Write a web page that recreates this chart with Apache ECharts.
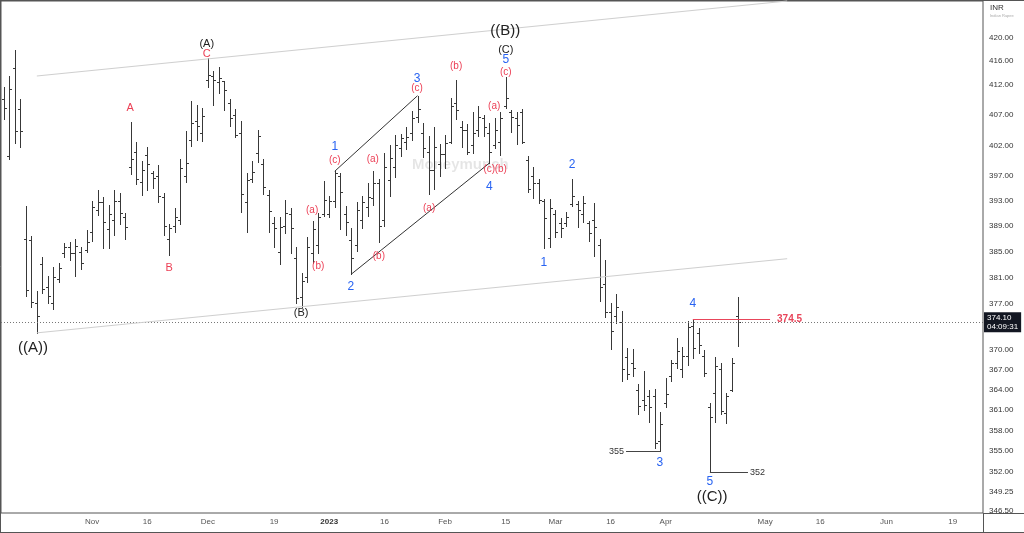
<!DOCTYPE html>
<html><head><meta charset="utf-8">
<script src="https://cdn.jsdelivr.net/npm/echarts@6/dist/echarts.min.js"></script>
<style>html,body{margin:0;padding:0;background:#fff}#c{width:1024px;height:533px}</style>
</head><body><div id="c"></div>
<script>
// ---- OHLC data (daily bars, Nov 2022 - Apr 2023) ----
const opens = [409.7,400.3,414.9,408.0,387.0,386.8,377.0,383.0,379.5,377.1,
380.8,384.8,385.8,384.8,385.0,385.2,388.1,391.5,392.9,388.6,
390.0,393.0,390.5,398.5,401.0,396.0,400.5,397.5,397.0,393.7,
387.0,389.0,390.0,397.0,402.9,406.0,404.0,412.8,413.5,412.5,
412.6,409.0,407.0,404.0,392.9,396.5,400.8,399.0,394.0,389.5,
385.0,389.0,391.0,384.0,378.0,381.0,384.8,386.0,391.0,391.0,
393.0,397.0,391.0,386.8,386.0,390.0,392.0,393.5,395.9,390.0,
396.4,398.5,401.5,402.5,404.0,406.7,404.0,401.0,398.0,399.0,
400.6,402.6,409.0,405.0,404.5,402.0,404.5,406.5,404.0,402.0,
402.6,408.5,407.5,406.5,407.5,399.6,397.0,395.9,393.0,387.1,
391.0,389.5,389.5,392.5,392.5,391.0,389.5,390.0,386.0,380.0,
375.6,375.0,374.2,368.9,368.0,364.0,362.5,363.0,363.0,356.5,
362.0,366.0,368.0,367.0,369.0,373.5,372.5,369.0,361.5,363.5,
367.0,360.5,364.0,375.1];
const highs = [411.7,413.5,417.9,409.7,392.2,387.5,378.9,384.2,381.2,382.6,
383.2,386.4,386.5,387.0,385.7,388.4,393.0,394.8,393.7,392.4,
394.8,394.3,391.1,405.9,402.6,399.5,401.7,397.8,398.8,394.3,
389.4,391.9,399.8,404.4,409.3,408.7,408.2,416.6,414.4,415.0,
412.7,409.7,408.0,406.0,397.5,399.5,404.5,399.8,394.8,390.5,
390.5,393.2,391.9,385.7,381.7,387.3,389.8,391.1,396.2,393.8,
397.8,397.5,392.2,388.7,392.9,393.8,395.9,397.8,396.5,400.8,
402.1,403.7,403.9,405.0,407.7,410.2,405.7,403.6,405.0,402.2,
403.7,409.8,412.8,406.0,405.5,407.5,408.5,407.0,405.7,406.5,
407.5,413.4,407.8,407.5,408.0,400.3,398.5,396.5,393.3,393.3,
391.6,390.3,391.3,396.5,393.0,393.8,389.8,392.7,387.0,383.7,
377.1,378.4,375.9,370.2,370.1,364.9,366.8,363.9,364.1,360.7,
365.7,368.4,371.8,370.4,374.3,374.5,373.3,369.9,362.0,368.8,
367.9,363.5,368.7,377.9];
const lows = [406.4,399.8,402.4,401.7,378.1,376.4,372.5,378.6,377.1,376.1,
380.3,384.2,383.7,381.2,382.3,385.0,386.7,390.8,385.6,385.6,
387.6,389.4,387.0,397.4,395.7,394.0,394.8,395.1,392.9,387.6,
384.5,388.1,389.4,396.1,401.9,402.9,402.7,411.7,408.7,410.7,
407.8,405.2,403.4,391.3,388.1,396.1,399.3,394.1,388.1,385.7,
383.1,387.9,384.8,377.1,376.4,380.3,383.2,384.8,390.6,390.5,
392.1,388.6,387.6,381.5,385.1,388.7,390.6,392.4,386.5,389.0,
393.8,396.9,400.3,401.4,402.9,405.9,400.1,394.1,394.9,397.0,
398.3,402.4,406.4,401.7,400.6,400.8,403.6,403.6,399.1,401.6,
400.4,408.2,404.2,402.2,402.4,394.5,393.5,392.7,385.6,385.7,
387.3,387.3,389.0,392.2,388.9,389.7,386.7,384.3,377.4,374.9,
370.1,374.0,365.3,365.6,366.0,360.4,361.0,359.3,355.4,355.0,
361.5,365.3,367.2,365.9,367.7,368.7,369.4,366.0,352.0,359.3,
360.4,359.1,363.8,370.5];
const closes = [408.2,411.3,404.4,404.4,379.1,377.2,375.1,379.2,378.1,381.0,
382.5,385.8,384.8,385.9,383.2,386.5,392.0,392.9,389.7,391.0,
393.0,391.1,388.9,399.8,396.5,398.0,399.0,396.7,393.8,389.0,
388.7,390.5,398.3,399.1,405.7,405.2,406.8,413.7,412.8,413.2,
411.2,406.5,403.7,394.1,396.4,397.7,403.5,395.3,391.4,388.7,
388.9,391.1,388.7,377.8,380.5,385.7,388.5,390.5,393.2,393.0,
397.5,394.5,389.7,384.0,391.6,392.9,393.7,395.9,389.0,398.5,
400.0,402.0,403.2,403.4,406.5,408.0,401.5,398.0,401.7,400.6,
402.4,408.5,407.8,404.5,400.9,404.0,406.7,405.0,401.0,404.5,
406.5,409.8,406.7,405.4,402.6,395.0,395.9,393.2,390.3,391.9,
388.1,388.7,390.5,393.8,391.6,392.7,387.9,388.9,379.5,375.7,
372.8,376.5,367.0,366.3,367.2,361.6,361.7,361.5,356.2,359.0,
363.4,367.9,369.8,369.0,373.4,370.2,370.7,366.5,360.0,367.5,
360.8,363.0,368.0,374.1];

// ---- axis ticks ----
const slotCount = 178; // trading-day slots incl. future space
const xTickIdx = [16,26,37,49,59,69,80,91,100,110,120,138,148,160,172];
const xTickText = ['Nov','16','Dec','19','2023','16','Feb','15','Mar','16','Apr','May','16','Jun','19'];
const yTicks = [420,416,412,407,402,397,393,389,385,381,377,370,367,364,361,358,355,352,349.25,346.5];
const lastPrice = 374.10;
const lastTime = '04:09:31';

// ---- Elliott wave annotations ----
const annText = ['((A))','A','B','C','(A)','(B)','(a)','(b)','(c)','1','2','(a)','(b)','3','(c)','(a)','(b)','(a)','(c)','(b)','4','((B))','(C)','5','(c)','1','2','3','4','5','((C))'];
const annIdx = [5.3,22.9,30.0,36.8,36.8,53.9,55.9,57.0,60.0,60.0,62.9,66.9,68.0,74.9,74.9,77.1,82.0,88.9,88.0,90.1,88.0,90.9,91.0,91.0,91.0,97.9,103.0,118.9,124.9,128.0,128.4];
const annPrice = [370.2,408.2,382.5,417.3,418.9,375.5,391.6,382.7,399.6,401.8,379.5,399.8,384.3,413.0,411.4,391.9,415.1,408.5,398.1,398.1,395.3,421.2,417.9,416.2,414.1,383.3,398.8,353.3,377.0,350.6,348.5];
const annKind = ['wave1','redL','redL','redL','wave2','wave2','red','red','red','blue','blue','red','red','blue','red','red','red','red','red','red','blue','wave1','wave2','blue','red','blue','blue','blue','blue','blue','wave1'];

// ---- trend lines [idx1, price1, idx2, price2] ----
const channelLines = [[6.0,413.5,142,426.3],[6.0,372.5,142,383.9]];
const waveLines = [[60,397.8,75,410.2],[63,381.5,88,399.1]];
// ---- price levels ----
const lvlFrom = [112.8,128.0,124.9];
const lvlTo = [119.0,134.9,138.9];
const lvlPrice = [355,352,374.5];
const lvlText = ['355','352','374.5'];

const FONT = 'Liberation Sans, Arial, sans-serif';
const chart = echarts.init(document.getElementById('c'));
const bars = opens.map((o,i)=>[i,o,highs[i],lows[i],closes[i]]);
const kindStyle = {
  red:{color:'#ec3f55',fontSize:10},
  redL:{color:'#ec3f55',fontSize:11},
  blue:{color:'#2863f2',fontSize:12},
  wave1:{color:'#222',fontSize:15},
  wave2:{color:'#222',fontSize:11}
};
const annData = annText.map((t,i)=>({value:[annIdx[i],annPrice[i]],
  label:Object.assign({show:true,formatter:t,position:'inside',fontFamily:FONT,
    textBorderWidth:0,textBorderColor:'transparent',opacity:1},kindStyle[annKind[i]])}));

const ml = [];
ml.push({yAxis:lastPrice, lineStyle:{color:'#777',type:[1,2],width:1},
  label:{show:true,position:'end',distance:1,formatter:lastPrice.toFixed(2)+'\n'+lastTime,
    backgroundColor:'#131722',color:'#fff',fontSize:8,lineHeight:9,padding:[1,3],fontFamily:FONT}});
channelLines.forEach(l=>ml.push([{coord:[l[0],l[1]],lineStyle:{color:'#cfcfcf',width:1,type:'solid'}},{coord:[l[2],l[3]]}]));
waveLines.forEach(l=>ml.push([{coord:[l[0],l[1]],lineStyle:{color:'#333',width:1,type:'solid'}},{coord:[l[2],l[3]]}]));
lvlPrice.forEach((p,i)=>{
  const red = i===2;
  ml.push([{coord:[lvlFrom[i],p],lineStyle:{color:red?'#e8455a':'#444',width:1,type:'solid'},
    label:{show:true,position:i===0?'start':'end',distance:red?7:2,formatter:lvlText[i],
      color:red?'#e8455a':'#333',fontSize:red?10:9,fontWeight:red?'bold':'normal',fontFamily:FONT}},
    {coord:[lvlTo[i],p]}]);
});

chart.setOption({
  animation:false,
  textStyle:{fontFamily:FONT},
  grid:{left:1,top:1,right:41,bottom:20,show:true,borderColor:'#555',borderWidth:1,backgroundColor:'#fff'},
  xAxis:{type:'value',min:-0.5,max:slotCount-0.5,splitLine:{show:false},axisLine:{show:false},axisTick:{show:false},
    axisLabel:{customValues:xTickIdx,fontSize:8,color:'#555',margin:5,
      formatter:v=>{const k=xTickIdx.indexOf(Math.round(v));if(k<0)return '';const t=xTickText[k];return t==='2023'?'{b|2023}':t;},
      rich:{b:{fontWeight:'bold',color:'#333',fontSize:8}}}},
  yAxis:{type:'log',logBase:10,min:346.2,max:426.3,position:'right',splitLine:{show:false},axisLine:{show:false},axisTick:{show:false},
    axisLabel:{customValues:yTicks,formatter:v=>Number(v).toFixed(2),fontSize:8,color:'#333',margin:6}},
  series:[
    {type:'custom',data:bars,encode:{x:0,y:[1,2,3,4]},silent:true,clip:true,z:3,
     renderItem:(params,api)=>{
       const i=api.value(0);
       const h=api.coord([i,api.value(2)]), l=api.coord([i,api.value(3)]);
       const o=api.coord([i,api.value(1)]), c=api.coord([i,api.value(4)]);
       const x=Math.round(h[0])+0.5;
       const st={stroke:'#383838',lineWidth:1};
       const yo=Math.round(o[1])+0.5, yc=Math.round(c[1])+0.5;
       return {type:'group',children:[
         {type:'line',shape:{x1:x,y1:Math.round(h[1]),x2:x,y2:Math.round(l[1])+1},style:st},
         {type:'line',shape:{x1:x-2.5,y1:yo,x2:x,y2:yo},style:st},
         {type:'line',shape:{x1:x,y1:yc,x2:x+2.5,y2:yc},style:st}
       ]};
     },
     markLine:{silent:true,symbol:['none','none'],animation:false,label:{show:false},data:ml}
    },
    {type:'scatter',data:annData,symbol:'circle',symbolSize:1,itemStyle:{color:'rgba(0,0,0,0)'},silent:true,z:5}
  ],
  graphic:[
    {type:'line',shape:{x1:0,y1:0.5,x2:1024,y2:0.5},style:{stroke:'#555',lineWidth:1}},
    {type:'line',shape:{x1:0.5,y1:0,x2:0.5,y2:533},style:{stroke:'#555',lineWidth:1}},
    {type:'line',shape:{x1:0,y1:532.5,x2:1024,y2:532.5},style:{stroke:'#555',lineWidth:1}},
    {type:'line',shape:{x1:983,y1:513.5,x2:1024,y2:513.5},style:{stroke:'#555',lineWidth:1}},
    {type:'line',shape:{x1:983.5,y1:513,x2:983.5,y2:533},style:{stroke:'#555',lineWidth:1}},
    {type:'text',left:990,top:4,style:{text:'INR',fontSize:8,fill:'#333',fontFamily:FONT}},
    {type:'text',left:990,top:14,style:{text:'Indian Rupee',fontSize:4,fill:'#aaa',fontFamily:FONT}},
    {type:'text',left:412,top:157,z:1,style:{text:'Moneymunch',fontSize:15,fontWeight:'bold',fill:'rgba(0,0,0,0.10)',fontFamily:FONT}}
  ]
});
</script></body></html>
